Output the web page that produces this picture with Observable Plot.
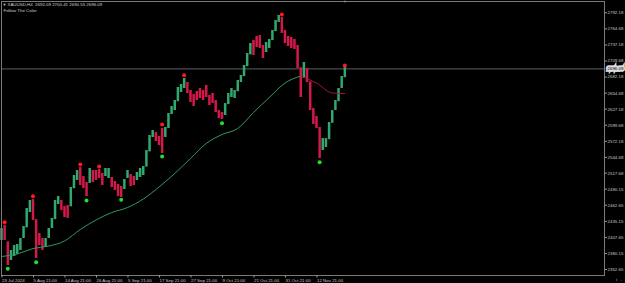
<!DOCTYPE html>
<html><head><meta charset="utf-8">
<script src="https://cdn.jsdelivr.net/npm/d3@7"></script>
<script src="https://cdn.jsdelivr.net/npm/@observablehq/plot@0.6"></script>
<style>
html,body{margin:0;padding:0;background:#000;}
#chart svg{display:block;}
</style></head><body><div id="chart"></div>
<script>
const symbolLine = "XAUUSD,H4  2692.09 2700.41 2690.55 2696.09";
const indicatorName = "Follow The Color";
const lastPrice = 2696.09;

// aggregated candles (bar index = position), high / low prices, trend colour U/D
const highs = [2422.8,2428.0,2400.0,2385.2,2393.7,2395.4,2405.7,2426.3,2457.1,2470.8,
2472.5,2438.0,2414.3,2405.7,2405.7,2422.8,2440.0,2470.8,2477.6,2470.8,
2460.5,2462.2,2493.1,2513.6,2522.2,2527.3,2511.9,2501.6,2525.6,2522.2,
2522.2,2523.9,2517.0,2525.6,2525.6,2510.2,2503.3,2498.2,2494.8,2506.7,
2522.2,2515.3,2511.9,2518.7,2525.6,2529.0,2556.4,2582.1,2590.6,2587.2,
2580.4,2594.1,2595.8,2619.7,2631.7,2642.0,2664.3,2669.4,2679.7,2672.8,
2659.1,2652.3,2657.4,2662.6,2659.1,2667.7,2650.6,2654.0,2642.0,2624.8,
2621.4,2636.8,2654.0,2662.6,2659.1,2676.3,2684.8,2701.9,2722.5,2739.6,
2744.7,2751.6,2753.3,2736.2,2741.3,2746.4,2761.9,2779.0,2787.6,2784.1,
2761.9,2751.6,2749.9,2746.4,2736.2,2698.0,2707.1,2696.8,2674.0,2628.3,
2614.6,2596.0,2576.9,2576.9,2604.3,2624.8,2642.0,2662.6,2683.1,2700.4];
const lows = [2402.3,2402.3,2359.5,2368.0,2374.9,2378.3,2385.2,2405.7,2424.0,2450.3,
2436.5,2371.5,2393.7,2385.2,2390.3,2405.7,2422.8,2438.0,2464.0,2453.7,
2441.7,2440.0,2460.0,2491.0,2505.0,2496.5,2491.4,2477.6,2500.0,2501.6,
2505.0,2508.5,2496.5,2511.9,2508.5,2493.1,2487.9,2477.6,2475.9,2489.6,
2508.5,2494.8,2496.5,2505.0,2510.2,2513.6,2528.0,2554.0,2578.7,2571.8,
2565.0,2551.3,2578.7,2594.0,2618.0,2624.8,2640.0,2655.7,2662.6,2654.0,
2638.5,2631.7,2642.0,2645.4,2642.0,2647.1,2633.4,2636.8,2621.4,2611.2,
2609.5,2616.3,2635.0,2647.1,2645.4,2657.0,2672.8,2683.0,2700.0,2720.0,
2719.1,2732.8,2731.1,2713.9,2724.2,2731.1,2744.7,2760.0,2775.6,2756.7,
2739.6,2734.5,2731.1,2729.3,2696.8,2647.1,2679.7,2672.8,2624.8,2600.9,
2594.1,2542.7,2556.4,2561.6,2575.0,2603.0,2624.8,2640.0,2662.6,2681.0];
const trend = ("UDDUUUUUUU"+"DDDDUUUUUD"+"DDUUUDDDUD"+"DDDUUDDDDU"+"UDDUUUUUUD"+
"DDUUUUUUUD"+"DDDDDDDDDD"+"DUUUUUUUUU"+"DDDDUUUUUD"+"DDDDDDUDDD"+"DDUUUUUUUU").split("");

// moving average
const maBars = [0,5,10,15,20,25,30,35,40,45,50,55,60,65,70,75,80,85,90,95,100,105,109];
const maValues = [2374.9,2379.2,2388.6,2392.9,2401.4,2421.1,2437.4,2450.2,2458.8,2473.3,
2493.9,2517.0,2542.7,2568.4,2583.8,2594.1,2621.4,2647.1,2671.9,2683.9,2671.9,2654.9,2654.0];
const maTrend = ["U","U","U","U","U","U","U","U","U","U","U","U","U","U","U","U","U","U","U","U","D","D","D"];

// swing markers
const peakBars = [1,10,25,31,51,58,89,109];
const peakPrices = [2433.6,2478.1,2532.4,2529.0,2600.9,2685.3,2789.3,2702.0];
const troughBars = [2,11,27,38,51,70,101];
const troughPrices = [2353.8,2365.1,2470.8,2471.9,2546.1,2603.1,2536.4];

// axes
const yTicks = [2792.18,2764.68,2737.18,2709.68,2682.18,2654.68,2627.18,2599.68,2572.18,
2544.68,2517.68,2490.15,2462.65,2435.15,2407.65,2380.15,2352.65];
const xTickBars = [0,10,20,30,40,50,60,70,80,90,100];
const xTickLabels = ["23 Jul 2024","5 Aug 21:00","14 Aug 21:00","26 Aug 21:00","5 Sep 21:00",
"17 Sep 21:00","27 Sep 21:00","9 Oct 21:00","21 Oct 21:00","31 Oct 21:00","12 Nov 21:00"];

const candles = highs.map((h,i)=>({i, high:h, low:lows[i], t:trend[i]}));
const ma = maBars.map((b,k)=>({i:b, v:maValues[k], t:maTrend[k]}));
const maUp = ma.filter(d=>d.t==="U");
const firstDown = ma.findIndex(d=>d.t==="D");
const maDown = ma.slice(Math.max(0,firstDown-1));
const peaks = peakBars.map((b,k)=>({i:b, v:peakPrices[k]}));
const troughs = troughBars.map((b,k)=>({i:b, v:troughPrices[k]}));
const xLabel = new Map(xTickBars.map((b,k)=>[b, xTickLabels[k]]));

const FS = 4.4;
const GREEN = "#31a86e", RED = "#d3184a";

const chart = Plot.plot({
  width: 625, height: 283,
  marginLeft: 1, marginRight: 21, marginTop: 1, marginBottom: 8,
  style: {background:"#000", color:"#c8c8c8", fontFamily:"'Liberation Sans', Arial, sans-serif"},
  x: {domain:[0,191.43], axis:null},
  y: {domain:[2342.4,2811.5], axis:null},
  marks: [
    Plot.ruleY([lastPrice], {stroke:"#56606c", strokeWidth:1}),
    Plot.ruleX(candles.filter(d=>d.t==="U"), {x:"i", y1:"low", y2:"high", stroke:GREEN, strokeWidth:2.5}),
    Plot.ruleX(candles.filter(d=>d.t==="D"), {x:"i", y1:"low", y2:"high", stroke:RED, strokeWidth:2.5}),
    Plot.line(maUp, {x:"i", y:"v", stroke:"#2f9a5f", strokeWidth:1, curve:"monotone-x"}),
    Plot.line(maDown, {x:"i", y:"v", stroke:"#a8143c", strokeWidth:1, curve:"monotone-x"}),
    Plot.dot(peaks, {x:"i", y:"v", r:2, fill:"#ff1a1a"}),
    Plot.dot(troughs, {x:"i", y:"v", r:2, fill:"#22e022"}),
    Plot.frame({stroke:"#7a7a7a"}),
    Plot.axisY({anchor:"right", ticks:yTicks, tickFormat:d=>d.toFixed(2), tickSize:2, tickPadding:1, fontSize:FS, stroke:"#9a9a9a"}),
    Plot.axisX({ticks:xTickBars, tickFormat:d=>xLabel.get(d), tickSize:2.5, tickPadding:1, fontSize:FS, textAnchor:"start", dx:0.5, stroke:"#9a9a9a"}),
    Plot.text([lastPrice], {y:d=>d, text:d=>d.toFixed(2), frameAnchor:"right", dx:3, textAnchor:"start", fontSize:FS, fill:"#000", stroke:"#dcdcdc", strokeWidth:3.6, strokeLinejoin:"miter", paintOrder:"stroke"}),
    Plot.text(["▼"], {frameAnchor:"top-left", dx:1, dy:1.5, lineAnchor:"top", textAnchor:"start", fontSize:4, fill:"#d0d0d0"}),
    Plot.text([symbolLine], {frameAnchor:"top-left", dx:6, dy:1.5, lineAnchor:"top", textAnchor:"start", fontSize:FS, fill:"#d0d0d0"}),
    Plot.text([indicatorName], {frameAnchor:"top-left", dx:2, dy:7, lineAnchor:"top", textAnchor:"start", fontSize:FS, fill:"#d0d0d0"}),
    Plot.text(["▼"], {x:[109], frameAnchor:"top", dy:-1.5, lineAnchor:"top", fontSize:4, fill:"#8a8a8a"})
  ]
});
document.getElementById("chart").appendChild(chart);
</script></body></html>
